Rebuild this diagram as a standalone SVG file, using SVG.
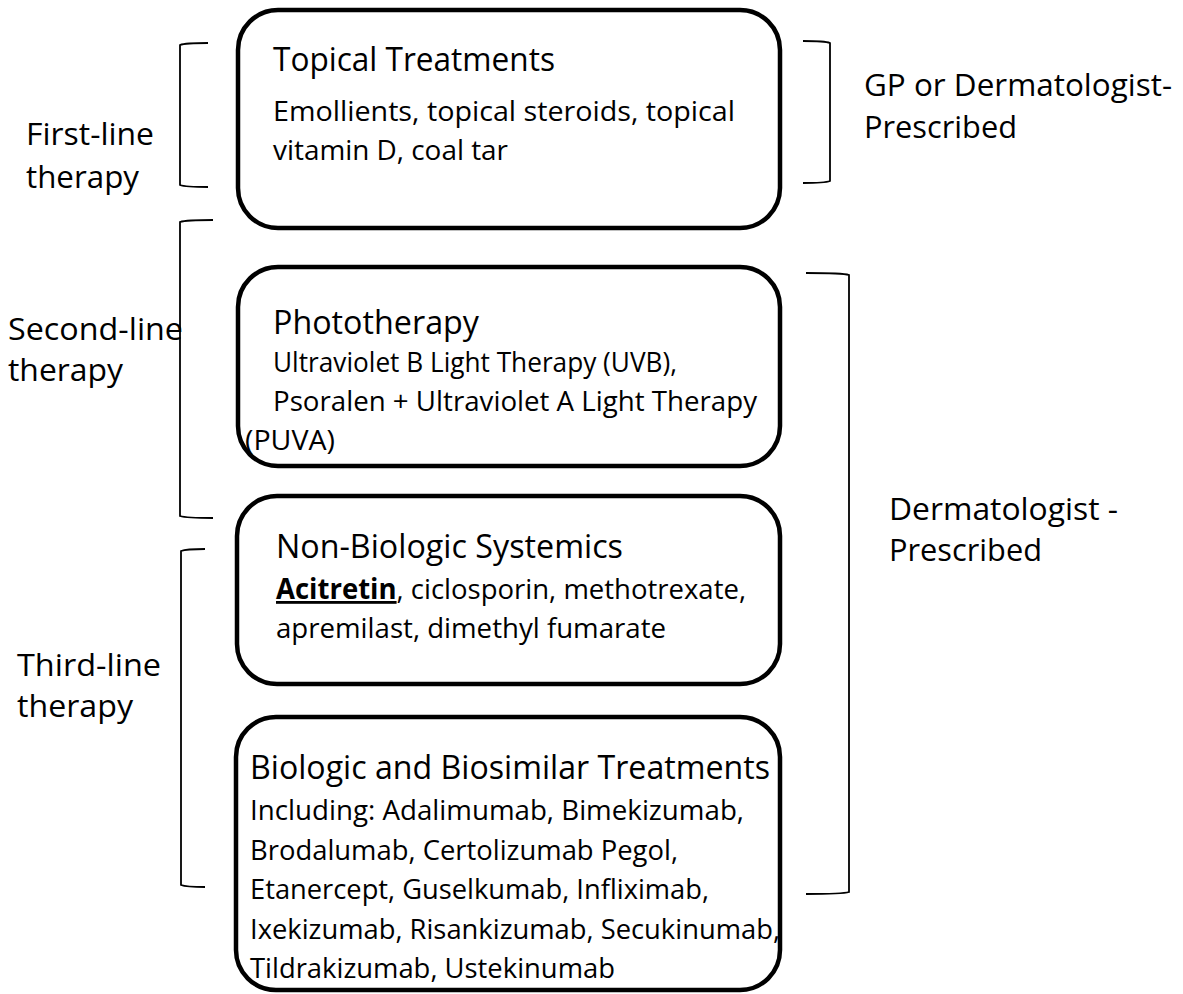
<svg xmlns="http://www.w3.org/2000/svg" width="1183" height="994" viewBox="0 0 1183 994">
<style>
.box{fill:#fff;stroke:#000;stroke-width:4.5}
.br{fill:none;stroke:#000;stroke-width:1.8}
text{font-family:"Open Sans","Noto Sans","Liberation Sans",sans-serif;fill:#000}
.t{font-size:33px}
.b{font-size:28px}
.l{font-size:31px}
</style>
<rect width="1183" height="994" fill="#fff"/>
<g id="connectors">
<path class="br" d="M208,43 Q185,43 180,45 L180,185 Q185,187 208,187"/>
<path class="br" d="M213,220 Q186,220 180,222 L180,516 Q186,518 213,518"/>
<path class="br" d="M205,549 Q186,549 181,551 L181,885 Q186,887 205,887"/>
<path class="br" d="M803,41 Q825,41 830,43 L830,181 Q825,183 803,183"/>
<path class="br" d="M806,273 Q843,273 849,275 L849,892 Q843,894 806,894"/>
</g>
<g id="label-first"><text class="l" x="26" y="145" textLength="128" lengthAdjust="spacingAndGlyphs">First-line</text><text class="l" x="26" y="188" textLength="113" lengthAdjust="spacingAndGlyphs">therapy</text></g>
<g id="label-second"><text class="l" x="8" y="340" textLength="175" lengthAdjust="spacingAndGlyphs">Second-line</text><text class="l" x="8" y="381" textLength="115" lengthAdjust="spacingAndGlyphs">therapy</text></g>
<g id="label-third"><text class="l" x="17" y="676" textLength="144" lengthAdjust="spacingAndGlyphs">Third-line</text><text class="l" x="17" y="717" textLength="116" lengthAdjust="spacingAndGlyphs">therapy</text></g>
<g id="label-gp"><text class="l" x="864" y="96" textLength="308" lengthAdjust="spacingAndGlyphs">GP or Dermatologist-</text><text class="l" x="864" y="138" textLength="153" lengthAdjust="spacingAndGlyphs">Prescribed</text></g>
<g id="label-derm"><text class="l" x="889" y="520" textLength="229" lengthAdjust="spacingAndGlyphs">Dermatologist -</text><text class="l" x="889" y="561" textLength="153" lengthAdjust="spacingAndGlyphs">Prescribed</text></g>
<g id="topical">
<rect class="box" x="238" y="10" width="542" height="218" rx="40"/>
<text class="t" x="273" y="71" textLength="282" lengthAdjust="spacingAndGlyphs">Topical Treatments</text>
<text class="b" x="273" y="121" textLength="462" lengthAdjust="spacingAndGlyphs">Emollients, topical steroids, topical</text>
<text class="b" x="273" y="160" textLength="235" lengthAdjust="spacingAndGlyphs">vitamin D, coal tar</text>
</g>
<g id="phototherapy">
<rect class="box" x="238" y="267" width="542" height="199" rx="40"/>
<text class="t" x="273" y="334" textLength="206" lengthAdjust="spacingAndGlyphs">Phototherapy</text>
<text class="b" x="273" y="372" textLength="404" lengthAdjust="spacingAndGlyphs">Ultraviolet B Light Therapy (UVB),</text>
<text class="b" x="273" y="411" textLength="484" lengthAdjust="spacingAndGlyphs">Psoralen + Ultraviolet A Light Therapy</text>
<text class="b" x="245" y="450" textLength="90" lengthAdjust="spacingAndGlyphs">(PUVA)</text>
</g>
<g id="non-biologic">
<rect class="box" x="237" y="496" width="543" height="188" rx="40"/>
<text class="t" x="276" y="558" textLength="347" lengthAdjust="spacingAndGlyphs">Non-Biologic Systemics</text>
<text class="b" x="276" y="599" textLength="470" lengthAdjust="spacingAndGlyphs"><tspan font-weight="bold" text-decoration="underline">Acitretin</tspan>, ciclosporin, methotrexate,</text>
<text class="b" x="276" y="638" textLength="390" lengthAdjust="spacingAndGlyphs">apremilast, dimethyl fumarate</text>
</g>
<g id="biologic">
<rect class="box" x="236" y="717" width="544" height="273" rx="40"/>
<text class="t" x="250" y="779" textLength="520" lengthAdjust="spacingAndGlyphs">Biologic and Biosimilar Treatments</text>
<text class="b" x="250" y="820" textLength="494" lengthAdjust="spacingAndGlyphs">Including: Adalimumab, Bimekizumab,</text>
<text class="b" x="250" y="860" textLength="428" lengthAdjust="spacingAndGlyphs">Brodalumab, Certolizumab Pegol,</text>
<text class="b" x="250" y="899" textLength="459" lengthAdjust="spacingAndGlyphs">Etanercept, Guselkumab, Infliximab,</text>
<text class="b" x="250" y="939" textLength="530" lengthAdjust="spacingAndGlyphs">Ixekizumab, Risankizumab, Secukinumab,</text>
<text class="b" x="250" y="978" textLength="365" lengthAdjust="spacingAndGlyphs">Tildrakizumab, Ustekinumab</text>
</g>
</svg>
